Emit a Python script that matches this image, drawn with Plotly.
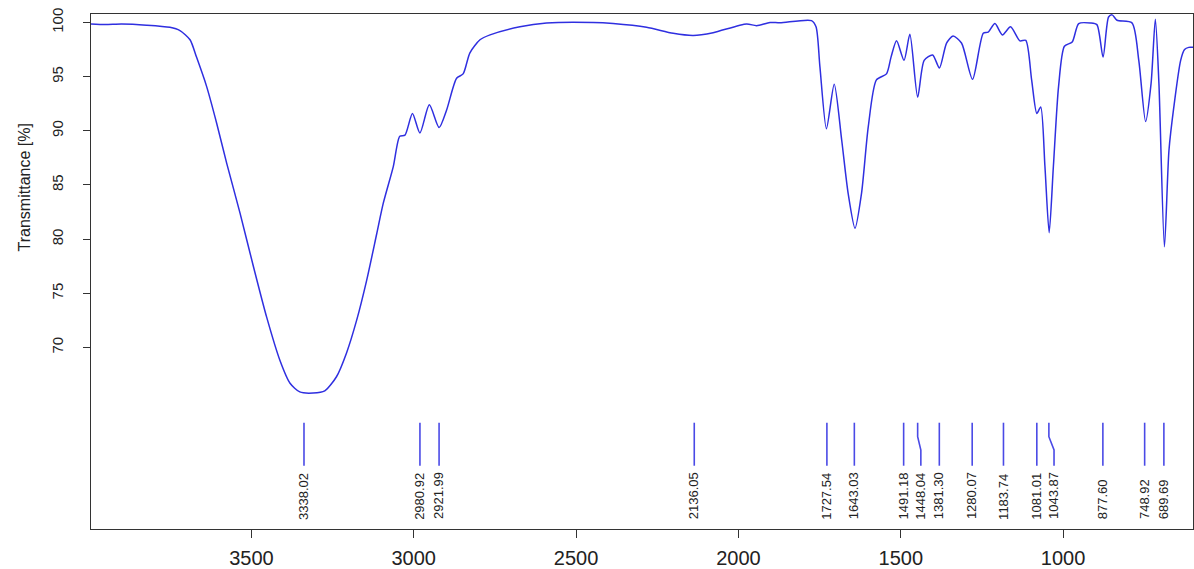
import plotly.graph_objects as go

# ---------------- data ----------------
wavenumber = [3994, 3950, 3900, 3823, 3751, 3720, 3689, 3669, 3638, 3607, 3576, 3535,
              3494, 3453, 3412, 3381, 3351, 3310, 3274, 3238, 3207, 3176, 3145, 3114,
              3094, 3063, 3043, 3027, 3004, 2981, 2952, 2922, 2899, 2868, 2848, 2827,
              2796, 2765, 2673, 2591, 2447, 2386, 2283, 2201, 2139, 2078, 1975, 1944,
              1903, 1872, 1775, 1761, 1749, 1729, 1705, 1682, 1662, 1641, 1621, 1600,
              1575, 1544, 1530, 1513, 1490, 1472, 1448, 1428, 1402, 1381, 1359, 1339,
              1313, 1279, 1246, 1231, 1210, 1187, 1162, 1133, 1115, 1097, 1081, 1069,
              1056, 1043, 1030, 1014, 996, 972, 952, 916, 896, 877, 860, 849, 834, 788,
              767, 746, 729, 716, 705, 688, 674, 659, 638, 626, 613, 600]
transmittance = [99.85, 99.8, 99.85, 99.75, 99.55, 99.25, 98.4, 96.8, 94.1, 90.7, 87.0, 82.4,
                 77.5, 72.8, 68.8, 66.7, 65.9, 65.8, 66.0, 67.3, 69.5, 72.5, 76.2, 80.5,
                 83.3, 86.7, 89.5, 89.6, 91.6, 89.8, 92.4, 90.3, 91.9, 94.85, 95.25, 97.2,
                 98.4, 98.85, 99.6, 99.95, 100.0, 99.9, 99.55, 99.0, 98.8, 99.06, 99.86, 99.7,
                 100.0, 99.97, 100.17, 99.6, 95.9, 90.2, 94.3, 89.15, 84.2, 81.0, 84.2, 90.4,
                 94.7, 95.25, 96.8, 98.3, 96.5, 98.9, 93.1, 96.5, 97.0, 95.8, 98.1, 98.75,
                 98.1, 94.75, 99.0, 99.1, 99.9, 98.85, 99.6, 98.3, 98.35, 94.7, 91.6, 92.2,
                 86.7, 80.6, 86.7, 94.1, 97.8, 98.2, 99.9, 99.95, 99.8, 96.8, 100.5, 100.7, 100.2, 99.96,
                 96.5, 90.85, 94.4, 100.3, 94.4, 79.3, 88.2, 92.2, 96.5, 97.5, 97.7, 97.7]

peaks = [3338.02, 2980.92, 2921.99, 2136.05, 1727.54, 1643.03, 1491.18, 1448.04,
         1381.30, 1280.07, 1183.74, 1081.01, 1043.87, 877.60, 748.92, 689.69]

x_ticks = [3500, 3000, 2500, 2000, 1500, 1000]
y_ticks = [70, 75, 80, 85, 90, 95, 100]
y_title = "Transmittance [%]"

# ---------------- layout constants ----------------
X_RANGE = [3994, 600]
Y_RANGE = [53.25, 100.78]
MIN_SEP = 53          # minimal label separation in wavenumber units
LINE_TOP, BEND_TOP, BEND_BOT, LINE_BOT = 63.06, 61.77, 60.54, 59.09
LABEL_BASE = 53.95
FONT = "Liberation Sans, Arial, sans-serif"

# label positions (simple repel, descending order)
label_x = []
for p in peaks:
    if label_x and label_x[-1] - p < MIN_SEP:
        label_x.append(label_x[-1] - MIN_SEP)
    else:
        label_x.append(p)

lx, ly = [], []
for p, q in zip(peaks, label_x):
    lx += [p, p, q, q, None]
    ly += [LINE_TOP, BEND_TOP, BEND_BOT, LINE_BOT, None]

fig = go.Figure()
fig.add_trace(go.Scatter(x=wavenumber, y=transmittance, mode="lines",
                         line=dict(color="#2f2fe0", width=1.5, shape="spline", smoothing=0.7),
                         hoverinfo="skip", showlegend=False))
fig.add_trace(go.Scatter(x=lx, y=ly, mode="lines",
                         line=dict(color="#4a4ae6", width=1.6),
                         hoverinfo="skip", showlegend=False))

for p, q in zip(peaks, label_x):
    fig.add_annotation(x=q, y=LABEL_BASE, xref="x", yref="y", text=f"{p:.2f}",
                       textangle=-90, showarrow=False, xanchor="center", yanchor="bottom",
                       font=dict(family=FONT, size=13, color="#222222"))

# y-axis title (placed like the original, above the plot's vertical centre)
fig.add_annotation(x=-0.06, y=0.663, xref="paper", yref="paper", text=y_title,
                   textangle=-90, showarrow=False, xanchor="center", yanchor="middle",
                   font=dict(family=FONT, size=16, color="#222222"))

fig.update_layout(
    width=1194, height=569,
    margin=dict(l=91, r=1, t=14, b=40, autoexpand=False),
    paper_bgcolor="white", plot_bgcolor="white",
    font=dict(family=FONT, color="#222222"),
    xaxis=dict(range=X_RANGE, tickvals=x_ticks, ticktext=[str(v) for v in x_ticks],
               ticks="outside", ticklen=8, tickcolor="#333", tickwidth=1.2,
               showline=True, linecolor="#333", linewidth=1.3, mirror=True,
               showgrid=False, zeroline=False, automargin=False, ticklabelstandoff=3,
               tickfont=dict(family=FONT, size=20, color="#222")),
    yaxis=dict(range=Y_RANGE, tickvals=y_ticks, ticktext=[str(v) for v in y_ticks],
               tickangle=-90, ticks="outside", ticklen=7, tickcolor="#333", tickwidth=1.2,
               showline=True, linecolor="#333", linewidth=1.3, mirror=True,
               showgrid=False, zeroline=False, automargin=False, ticklabelstandoff=14,
               tickfont=dict(family=FONT, size=15, color="#222")),
)

fig.write_html("out.html", config={"displayModeBar": False},
               post_script="document.body.style.margin='0px';document.body.style.overflow='hidden';")
